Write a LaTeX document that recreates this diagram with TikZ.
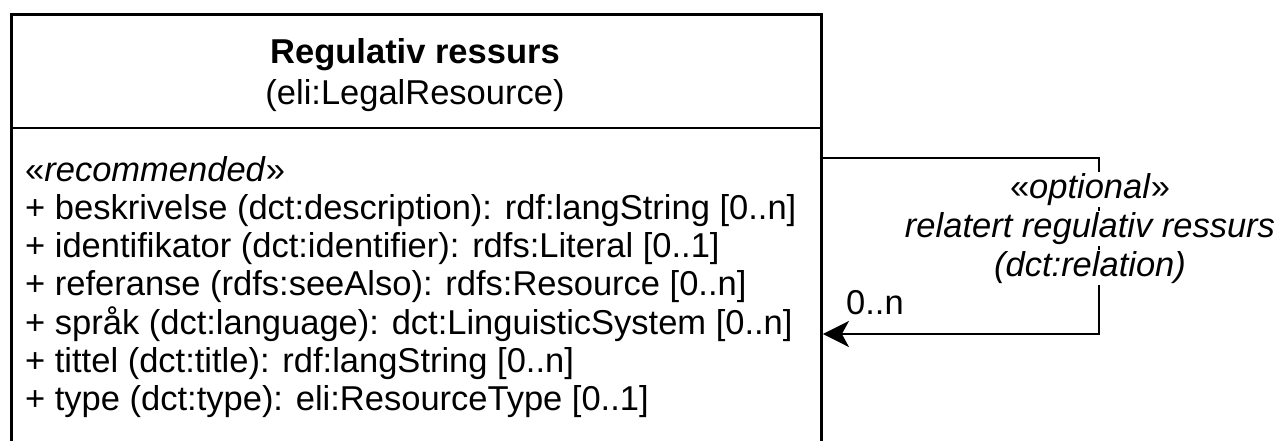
\documentclass[tikz,border=0pt]{standalone}
\usepackage{fontspec}
\setmainfont{Liberation Sans}
\usetikzlibrary{arrows.meta}
\begin{document}
\begin{tikzpicture}[x=1pt,y=-1pt,
  txt/.style={font=\fontsize{34.5}{38.5}\selectfont, inner sep=0pt, anchor=base west},
  ctxt/.style={font=\fontsize{34.5}{38.5}\selectfont, inner sep=0pt, anchor=base},
  edge/.style={line width=2.9pt},
  lbl/.style={ctxt, fill=white, inner sep=1.5pt},
]
\clip (0,0) rectangle (1281,441);
\node[draw, line width=2.9pt, minimum width=810pt, minimum height=460pt, anchor=north west, inner sep=0pt] (cls) at (10,13) {};
\draw[edge] (cls.west |- 0,128) -- (cls.east |- 0,128);
\node[ctxt, font=\fontsize{34.5}{38.5}\selectfont\bfseries] (title) at (415,64) {Regulativ ressurs};
\node[ctxt] (sub) at (415,105) {(eli:LegalResource)};
\node[txt] (a0) at (25,181) {«\textit{recommended}»};
\node[txt] (a1) at (25,219.3) {+ beskrivelse (dct:description): rdf:langString [0..n]};
\node[txt] (a2) at (25,257.6) {+ identifikator (dct:identifier): rdfs:Literal [0..1]};
\node[txt] (a3) at (25,295.9) {+ referanse (rdfs:seeAlso): rdfs:Resource [0..n]};
\node[txt] (a4) at (25,334.2) {+ språk (dct:language): dct:LinguisticSystem [0..n]};
\node[txt] (a5) at (25,372.5) {+ tittel (dct:title): rdf:langString [0..n]};
\node[txt] (a6) at (25,410.8) {+ type (dct:type): eli:ResourceType [0..1]};
\coordinate (b1) at (1099,158);
\coordinate (b2) at (1099,334);
\draw[edge, -{Stealth[length=26pt,width=26pt,inset=7pt]}] (cls.east |- b1) -- (b1) -- (b2) -- (cls.east |- b2);
\node[lbl] (l1) at (1090,198) {«\textit{optional}»};
\node[lbl] (l2) at (1090,237) {\textit{relatert regulativ ressurs}};
\node[lbl] (l3) at (1090,276) {\textit{(dct:relation)}};
\node[txt] (card) at (846,314) {0..n};
\end{tikzpicture}
\end{document}
